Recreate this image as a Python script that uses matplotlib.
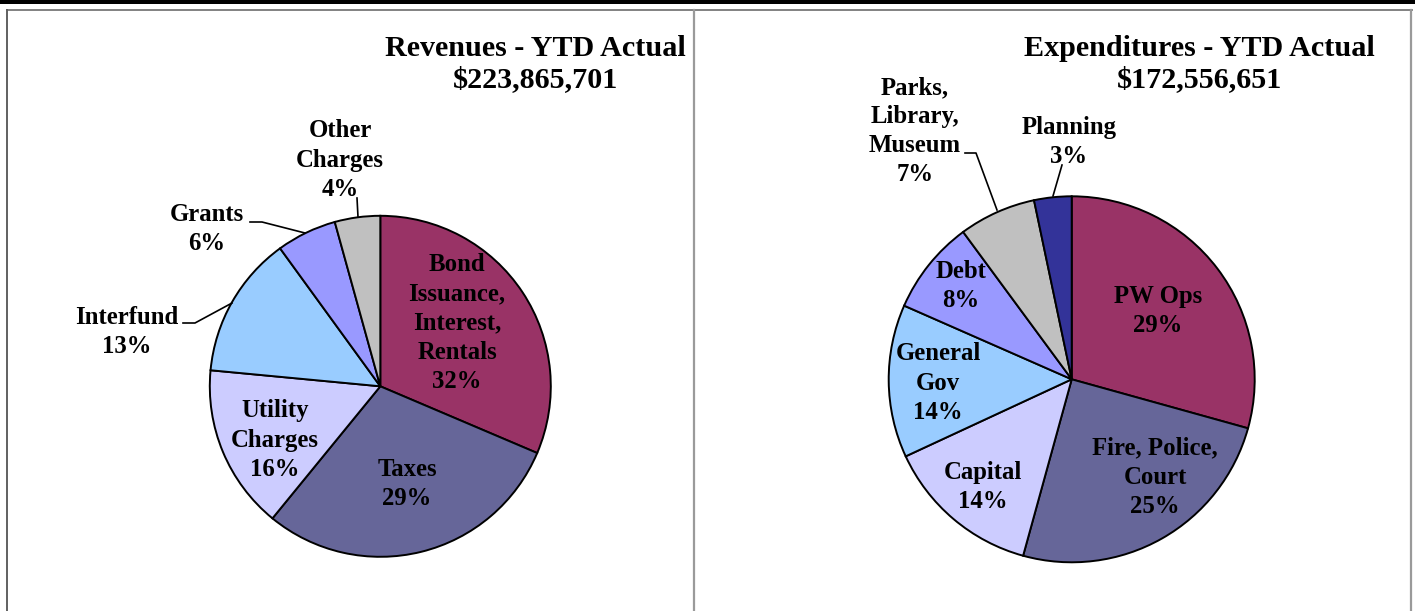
import matplotlib
matplotlib.use("Agg")
import matplotlib.pyplot as plt
from matplotlib.lines import Line2D

# ---------------- data ----------------
rev_labels = ["Bond\nIssuance,\nInterest,\nRentals", "Taxes", "Utility\nCharges",
              "Interfund", "Grants", "Other\nCharges"]
rev_values = [31.4, 29.5, 15.6, 13.5, 5.7, 4.3]
rev_pct = ["32%", "29%", "16%", "13%", "6%", "4%"]

exp_labels = ["PW Ops", "Fire, Police,\nCourt", "Capital", "General\nGov",
              "Debt", "Parks,\nLibrary,\nMuseum", "Planning"]
exp_values = [29.3, 24.95, 13.8, 13.5, 8.3, 6.8, 3.3]
exp_pct = ["29%", "25%", "14%", "14%", "8%", "7%", "3%"]

rev_title = "Revenues - YTD Actual\n$223,865,701"
exp_title = "Expenditures - YTD Actual\n$172,556,651"

rev_colors = ["#993366", "#666699", "#CCCCFF", "#99CCFF", "#9999FF", "#C0C0C0"]
exp_colors = ["#993366", "#666699", "#CCCCFF", "#99CCFF", "#9999FF", "#C0C0C0", "#333399"]

# ---------------- layout (pixels) ----------------
W, H = 1415, 611
DPI = 100
FONT = "Liberation Serif"

fig = plt.figure(figsize=(W / DPI, H / DPI), dpi=DPI)
fig.patch.set_facecolor("white")

# frame decorations
fig.add_artist(plt.Rectangle((0, 1 - 4 / H), 1, 4 / H, transform=fig.transFigure,
                             color="black", lw=0))
def fline(x0, y0, x1, y1, color, lw):
    fig.add_artist(Line2D([x0 / W, x1 / W], [1 - y0 / H, 1 - y1 / H],
                          transform=fig.transFigure, color=color, lw=lw))
fline(7, 10, 1412, 10, "#777777", 1.3)
fline(7, 10, 7, 611, "#606060", 1.4)
fline(694, 10, 694, 611, "#9a9a9a", 1.6)
fline(1411, 10, 1411, 611, "#9a9a9a", 1.6)


def make_pie(px0, px1, cx, cy, r, values, colors, names, pcts, inside_pos,
             title, title_xy, leaders):
    ax = fig.add_axes([px0 / W, 0, (px1 - px0) / W, 1])
    ax.pie(values, colors=colors, startangle=90, counterclock=False, radius=1,
           wedgeprops=dict(edgecolor="black", linewidth=1.4))
    ax.set_xlim((px0 - cx) / r, (px1 - cx) / r)
    ax.set_ylim((cy - H) / r, cy / r)
    ax.set_aspect("auto")
    ax.axis("off")

    def d(px, py):
        return (px - cx) / r, (cy - py) / r

    for name, pct, (px, py) in zip(names, pcts, inside_pos):
        x, y = d(px, py)
        ax.text(x, y, f"{name}\n{pct}", ha="center", va="center",
                fontsize=17.8, fontweight="bold", family=FONT, linespacing=1.34,
                clip_on=False)
    for pts in leaders:
        xs, ys = zip(*[d(px, py) for px, py in pts])
        ax.plot(xs, ys, color="black", lw=1.2, clip_on=False)
    tx, ty = d(*title_xy)
    ax.text(tx, ty, title, ha="center", va="center", fontsize=21.7,
            fontweight="bold", family=FONT, linespacing=1.23)


make_pie(8, 694, 380.3, 386.3, 170.5, rev_values, rev_colors, rev_labels, rev_pct,
         [(457, 323), (407, 484), (275, 440), (127, 332), (207, 229), (340, 160)],
         rev_title, (535, 64),
         [[(183, 323), (195, 323), (232, 303)],
          [(250, 222), (262, 222), (305, 233)],
          [(357, 198), (358, 217)]])

make_pie(694, 1411, 1071.7, 379.3, 183, exp_values, exp_colors, exp_labels, exp_pct,
         [(1158, 311), (1155, 477), (983, 487), (938, 383), (961, 286), (915, 131),
          (1069, 142)],
         exp_title, (1199, 64),
         [[(965, 153), (976, 153), (997, 210)],
          [(1062, 165), (1053, 196)]])

fig.savefig("out.png", dpi=DPI, facecolor="white")
